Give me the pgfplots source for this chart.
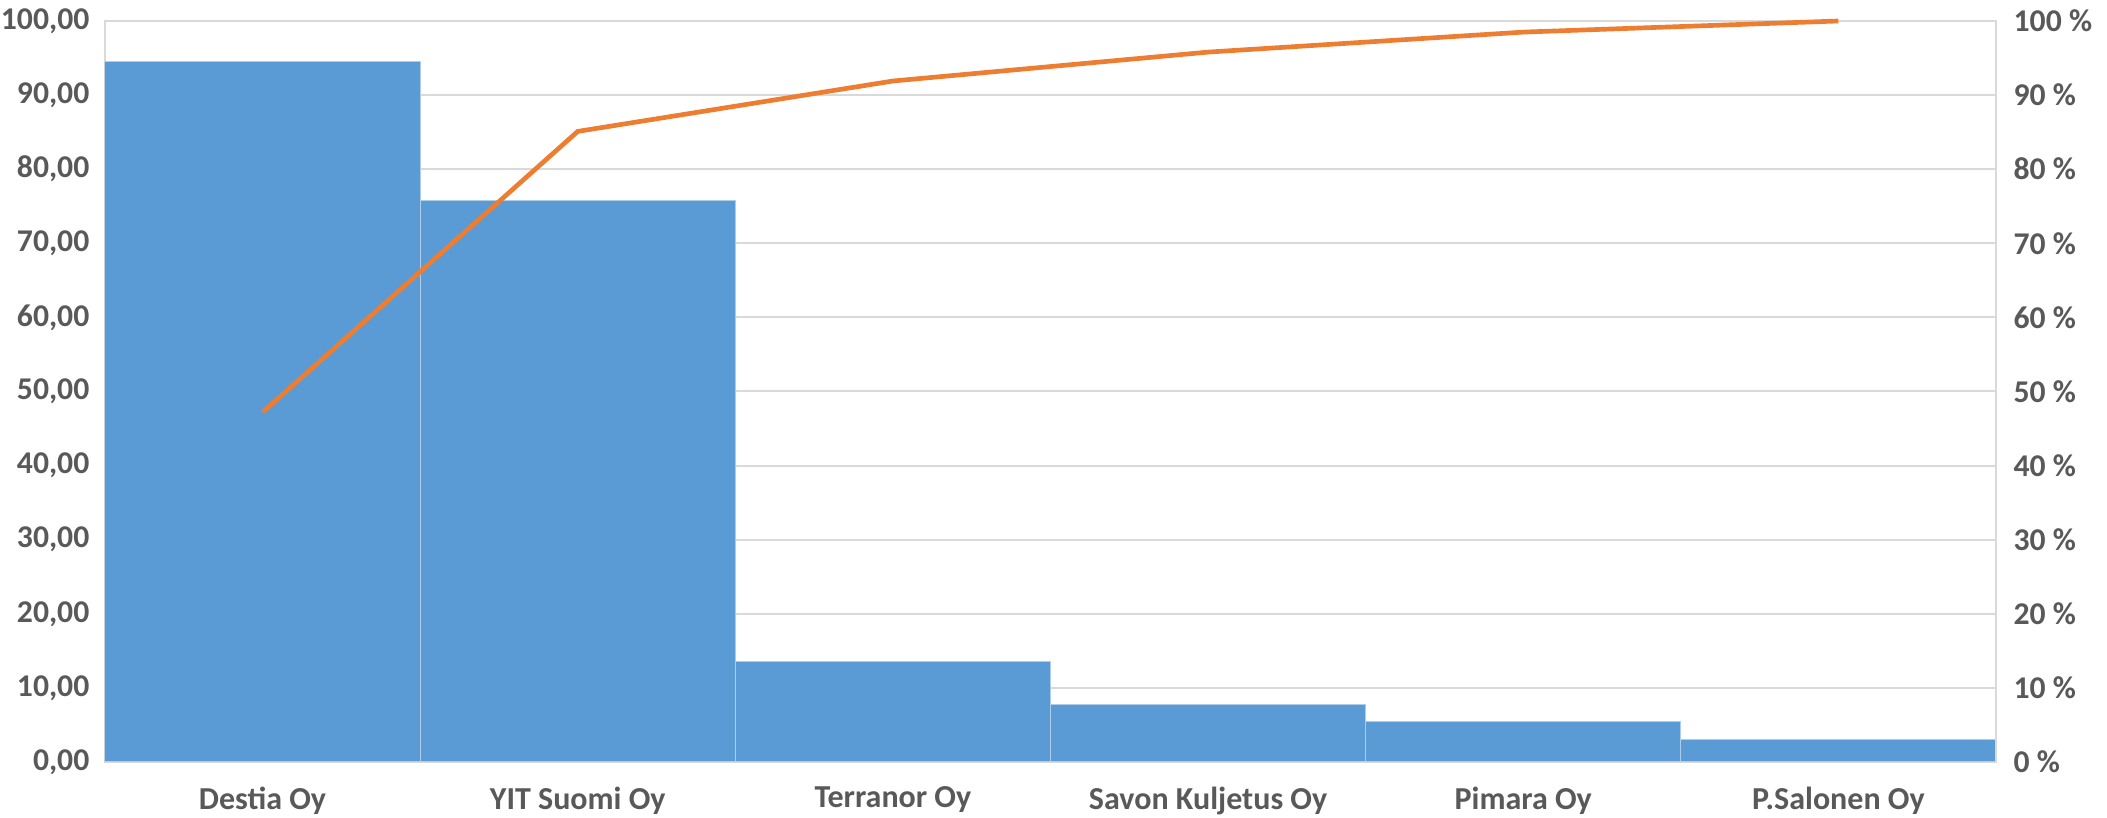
\documentclass[border=0pt]{standalone}
\usepackage{fontspec}
\setmainfont{Carlito}
\usepackage{pgfplots}
\pgfplotsset{compat=1.18}
\definecolor{barblue}{HTML}{5B9BD5}
\definecolor{lineorange}{HTML}{ED7D31}
\definecolor{gridgray}{HTML}{D9D9D9}
\definecolor{textgray}{HTML}{595959}
\begin{document}
\begin{tikzpicture}
\useasboundingbox (-31.5pt,-16.8pt) rectangle (600.6pt,228.6pt);
\begin{axis}[
  scale only axis, width=567.3pt, height=222.3pt,
  xmin=0, xmax=6, ymin=0, ymax=100,
  axis line style={gridgray, line width=0.6pt},
  xtick={0.5,1.5,2.5,3.5,4.5,5.5},
  xticklabels={Destia Oy, YIT Suomi Oy, Terranor Oy, Savon Kuljetus Oy, Pimara Oy, P.Salonen Oy},
  ytick={0,10,...,100},
  ymajorgrids, grid style={gridgray, line width=0.6pt},
  major tick length=0pt,
  tick style={draw=none},
  yticklabel={\pgfmathprintnumber[fixed, fixed zerofill, precision=2, use comma, assume math mode=true]{\tick}},
  tick label style={font=\bfseries\fontsize{9.5}{11}\selectfont, text=textgray},
  y tick label style={inner sep=0pt, xshift=-4.5pt},
  x tick label style={inner sep=0pt, yshift=-7.2pt, font=\bfseries\fontsize{9.6}{11}\selectfont},
]
\addplot[ybar, bar width=1, fill=barblue, draw=white!50!barblue, line width=0.3pt]
  coordinates {(0.5,94.47) (1.5,75.8) (2.5,13.5) (3.5,7.7) (4.5,5.5) (5.5,3.0)};
\end{axis}
\begin{axis}[
  scale only axis, width=567.3pt, height=222.3pt,
  xmin=0, xmax=6, ymin=0, ymax=100,
  axis x line=none, axis y line*=right,
  axis line style={-, gridgray, line width=0.6pt},
  ytick={0,10,...,100},
  yticklabel={\pgfmathprintnumber[assume math mode=true]{\tick}~\%},
  major tick length=0pt,
  tick style={draw=none},
  tick label style={font=\bfseries\fontsize{9.5}{11}\selectfont, text=textgray},
  y tick label style={inner sep=0pt, xshift=5.1pt},
  clip=false,
]
\addplot[lineorange, line width=1.4pt]
  coordinates {(0.5,47.2) (1.5,85.1) (2.5,91.9) (3.5,95.8) (4.5,98.5) (5.5,100)};
\end{axis}
\end{tikzpicture}
\end{document}
